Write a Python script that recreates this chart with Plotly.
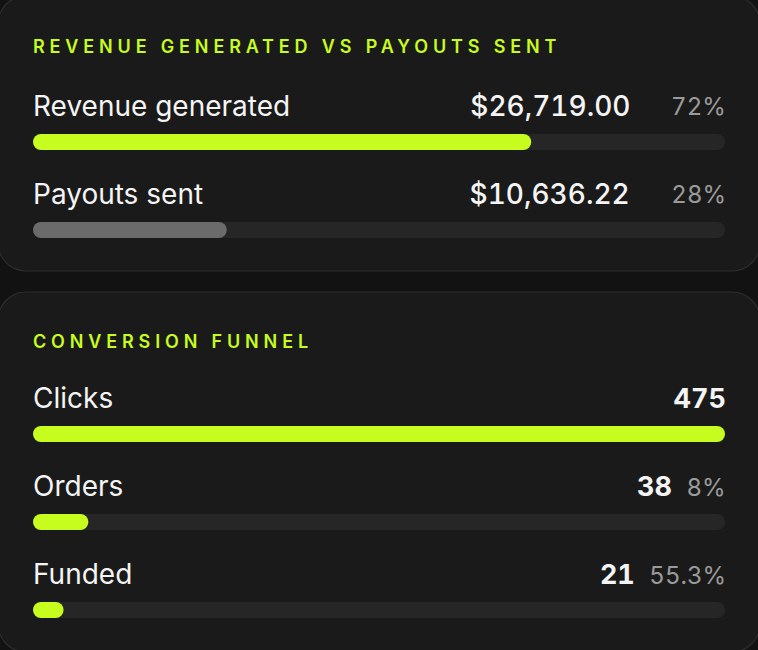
import plotly.graph_objects as go

# ---------------- data ----------------
revenue_title = "REVENUE GENERATED VS PAYOUTS SENT"
revenue_labels = ["Revenue generated", "Payouts sent"]
revenue_values = [26719.00, 10636.22]
revenue_value_text = ["$26,719.00", "$10,636.22"]
revenue_share = [72, 28]          # percent of total, as shown

funnel_title = "CONVERSION FUNNEL"
funnel_labels = ["Clicks", "Orders", "Funded"]
funnel_values = [475, 38, 21]
funnel_rate_text = ["", "8%", "55.3%"]   # step conversion, as shown

# ---------------- style ----------------
W, H = 758, 650
PAGE_BG = "#121212"
CARD_BG = "#1a1a1a"
CARD_BORDER = "#2d2d2d"
TRACK = "#262626"
LIME = "#c6fc1e"
GREY_BAR = "#6b6b6b"
WHITE = "#f4f4f4"
MUTED = "#9a9a9a"
FONT = "Inter"

TRACK_X0, TRACK_X1 = 33, 725
ROW = 88          # px between bar centres
BAR_H = 16
c1_first = 142    # centre of first bar (card 1)
c2_first = 434    # centre of first bar (card 2)
LBL = 28
PCT = 24
TXT_UP = 36


def px(x):
    return x / W


def py(y):
    return 1 - y / H


def rounded_rect(x0, y0, x1, y1, r):
    k = 0.5523 * r
    pts = [
        f"M{px(x0 + r)},{py(y0)}",
        f"L{px(x1 - r)},{py(y0)}",
        f"C{px(x1 - r + k)},{py(y0)} {px(x1)},{py(y0 + r - k)} {px(x1)},{py(y0 + r)}",
        f"L{px(x1)},{py(y1 - r)}",
        f"C{px(x1)},{py(y1 - r + k)} {px(x1 - r + k)},{py(y1)} {px(x1 - r)},{py(y1)}",
        f"L{px(x0 + r)},{py(y1)}",
        f"C{px(x0 + r - k)},{py(y1)} {px(x0)},{py(y1 - r + k)} {px(x0)},{py(y1 - r)}",
        f"L{px(x0)},{py(y0 + r)}",
        f"C{px(x0)},{py(y0 + r - k)} {px(x0 + r - k)},{py(y0)} {px(x0 + r)},{py(y0)}",
        "Z",
    ]
    return " ".join(pts)


fig = go.Figure()


def pill(labels, lengths, color, xa, ya):
    # an explicit base makes plotly round both ends of the bar
    fig.add_trace(go.Bar(y=labels, x=lengths, base=[0] * len(lengths), orientation="h",
                         marker=dict(color=color, line=dict(width=0)),
                         width=BAR_H / ROW, xaxis=xa, yaxis=ya,
                         hoverinfo="skip", showlegend=False))


# card 1 bars
pill(revenue_labels, [100] * len(revenue_labels), TRACK, "x", "y")
pill(revenue_labels, revenue_share, [LIME, GREY_BAR], "x", "y")
# card 2 bars
pill(funnel_labels, [funnel_values[0]] * len(funnel_labels), TRACK, "x2", "y2")
pill(funnel_labels, funnel_values, LIME, "x2", "y2")

xdom = [px(TRACK_X0), px(TRACK_X1)]
y1_top = c1_first - ROW / 2
y1_bot = c1_first + ROW * 1.5
y2_top = c2_first - ROW / 2
y2_units = (H - y2_top) / ROW

hidden = dict(showgrid=False, zeroline=False, showticklabels=False, showline=False, fixedrange=True)
fig.update_layout(
    width=W, height=H,
    margin=dict(l=0, r=0, t=0, b=0),
    paper_bgcolor=PAGE_BG, plot_bgcolor="rgba(0,0,0,0)",
    barmode="overlay", barcornerradius=BAR_H / 2,
    font=dict(family=FONT, color=WHITE),
    xaxis=dict(domain=xdom, range=[0, 100], anchor="y", **hidden),
    yaxis=dict(domain=[py(y1_bot), py(y1_top)], type="category",
               range=[1.5, -0.5], anchor="x", **hidden),
    xaxis2=dict(domain=xdom, range=[0, funnel_values[0]], anchor="y2", **hidden),
    yaxis2=dict(domain=[0, py(y2_top)], type="category",
                range=[-0.5 + y2_units, -0.5], anchor="x2", **hidden),
)

# cards
fig.add_shape(type="path", path=rounded_rect(-2, -4, 760, 271, 28), xref="paper", yref="paper",
              fillcolor=CARD_BG, line=dict(color=CARD_BORDER, width=1.2), layer="below")
fig.add_shape(type="path", path=rounded_rect(-2, 292, 760, 652, 28), xref="paper", yref="paper",
              fillcolor=CARD_BG, line=dict(color=CARD_BORDER, width=1.2), layer="below")

ann = []
# titles
for t, yy in ((revenue_title, 47), (funnel_title, 341)):
    ann.append(dict(text=t, x=px(TRACK_X0), y=py(yy), xref="paper", yref="paper", xshift=-2,
                    xanchor="left", yanchor="middle", align="left", showarrow=False,
                    font=dict(size=18, color=LIME, weight=600, family=FONT)))

# card 1 rows
for lab, vt, sh in zip(revenue_labels, revenue_value_text, revenue_share):
    ann.append(dict(text=lab, x=0, y=lab, xref="x", yref="y", yshift=TXT_UP, xshift=-2,
                    xanchor="left", yanchor="middle", align="left", showarrow=False,
                    font=dict(size=LBL, color=WHITE, family=FONT)))
    ann.append(dict(text=vt, x=100, y=lab, xref="x", yref="y", yshift=TXT_UP, xshift=-93,
                    xanchor="right", yanchor="middle", align="right", showarrow=False,
                    font=dict(size=LBL, color=WHITE, weight=500, family=FONT)))
    ann.append(dict(text=f"{sh}%", x=100, y=lab, xref="x", yref="y", yshift=TXT_UP, xshift=3,
                    xanchor="right", yanchor="middle", align="right", showarrow=False,
                    font=dict(size=PCT, color=MUTED, family=FONT)))

# card 2 rows
for lab, v, rt in zip(funnel_labels, funnel_values, funnel_rate_text):
    ann.append(dict(text=lab, x=0, y=lab, xref="x2", yref="y2", yshift=TXT_UP, xshift=-2,
                    xanchor="left", yanchor="middle", align="left", showarrow=False,
                    font=dict(size=LBL, color=WHITE, family=FONT)))
    if rt:
        txt = (f"<b>{v}</b>&nbsp;&nbsp;"
               f"<span style='color:{MUTED};font-size:{PCT}px'>{rt}</span>")
    else:
        txt = f"<b>{v}</b>"
    ann.append(dict(text=txt, x=funnel_values[0], y=lab, xref="x2", yref="y2",
                    yshift=TXT_UP, xshift=3,
                    xanchor="right", yanchor="middle", align="right", showarrow=False,
                    font=dict(size=LBL - 1, color=WHITE, family=FONT)))

fig.update_layout(annotations=ann)

post = """
document.body.style.margin = '0';
document.body.style.background = '%s';
var gd = document.getElementById('{plot_id}');
function tweakText(){
  gd.querySelectorAll('text.annotation-text').forEach(function(t){
    var s = t.textContent;
    if (s === '%s' || s === '%s') { t.style.letterSpacing = '4.85px'; }
    else if (/[0-9]/.test(s)) { t.style.fontVariantNumeric = 'tabular-nums'; t.style.fontFeatureSettings = '"tnum" 1'; }
  });
}
tweakText();
if (gd.on) { gd.on('plotly_afterplot', tweakText); }
""" % (PAGE_BG, revenue_title, funnel_title)

fig.write_html("out.html", post_script=post, config={"displayModeBar": False, "staticPlot": True})
